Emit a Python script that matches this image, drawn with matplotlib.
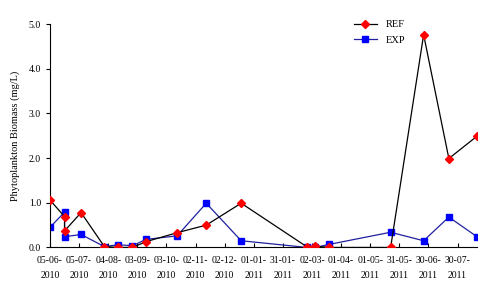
import numpy as np
import pandas as pd
import matplotlib
matplotlib.use('Agg')
import matplotlib.pyplot as plt
import matplotlib.dates as mdates

plt.rcParams['font.family'] = ['Liberation Serif', 'DejaVu Serif']

# Sampling dates and phytoplankton biomass (mg/L)
ref_dates = ['2010-06-05', '2010-06-20', '2010-06-20', '2010-07-07', '2010-07-31',
             '2010-08-14', '2010-08-29', '2010-09-12', '2010-10-14', '2010-11-13',
             '2010-12-19', '2011-02-25', '2011-03-05', '2011-03-20', '2011-05-22',
             '2011-06-25', '2011-07-21', '2011-08-19']
ref_vals = [1.06, 0.69, 0.37, 0.78, 0.02, 0.0, 0.0, 0.13, 0.33, 0.50,
            0.99, 0.01, 0.03, 0.0, 0.0, 4.76, 1.99, 2.49]

exp_dates = ['2010-06-05', '2010-06-20', '2010-06-20', '2010-07-07', '2010-07-31',
             '2010-08-14', '2010-08-29', '2010-09-12', '2010-10-14', '2010-11-13',
             '2010-12-19', '2011-02-25', '2011-03-05', '2011-03-20', '2011-05-22',
             '2011-06-25', '2011-07-21', '2011-08-19']
exp_vals = [0.45, 0.79, 0.24, 0.29, 0.02, 0.06, 0.04, 0.18, 0.26, 0.99,
            0.15, 0.0, 0.0, 0.07, 0.34, 0.15, 0.68, 0.24]

tick_dates = pd.date_range('2010-06-05', periods=15, freq='30D')

ref_x = pd.to_datetime(ref_dates)
exp_x = pd.to_datetime(exp_dates)

fig = plt.figure(figsize=(5.0, 3.04), dpi=100)
ax = fig.add_axes([0.1, 0.186, 0.854, 0.735])

ax.plot(ref_x, ref_vals, color='black', lw=0.9, marker='D', ms=4,
        mfc='red', mec='red', label='REF', zorder=3)
ax.plot(exp_x, exp_vals, color='#2020a0', lw=0.9, marker='s', ms=4.5,
        mfc='blue', mec='blue', label='EXP', zorder=2)

ax.set_xlim(pd.Timestamp('2010-06-05'), pd.Timestamp('2011-08-19'))
ax.set_ylim(0, 5.0)
ax.set_yticks(np.arange(0, 5.01, 1.0))
ax.yaxis.set_major_formatter(plt.FormatStrFormatter('%.1f'))
ax.set_xticks(tick_dates)
ax.set_xticklabels([d.strftime('%d-%m-\n%Y') for d in tick_dates])
ax.tick_params(axis='x', direction='in', length=3, labelsize=7, pad=6)
ax.tick_params(axis='y', direction='out', length=3, labelsize=7)
for lbl in ax.get_xticklabels():
    lbl.set_linespacing(1.9)

ax.spines['top'].set_visible(False)
ax.spines['right'].set_visible(False)
ax.set_ylabel('Phytoplankton Biomass (mg/L)', fontsize=7.5, labelpad=6)

ax.legend(loc='upper left', bbox_to_anchor=(0.69, 1.06), frameon=False,
          fontsize=7.5, handlelength=2.2, labelspacing=0.6)

fig.savefig('out.png', dpi=100)
